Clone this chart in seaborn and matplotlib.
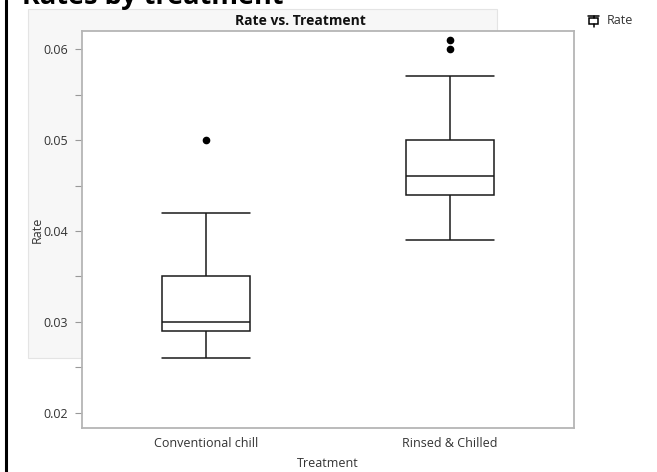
import numpy as np
import pandas as pd
import matplotlib
matplotlib.use("Agg")
import matplotlib.pyplot as plt
import seaborn as sns
from matplotlib.patches import Rectangle
from matplotlib.lines import Line2D
from matplotlib.ticker import MultipleLocator

# Data (quartiles, whiskers and outliers per group)
conventional = [0.026, 0.027, 0.028, 0.029, 0.029, 0.030, 0.030,
                0.031, 0.033, 0.035, 0.038, 0.042, 0.050]
rinsed = [0.039, 0.041, 0.043, 0.044, 0.045, 0.046, 0.046,
          0.047, 0.049, 0.050, 0.057, 0.060, 0.061]
treatments = ["Conventional chill", "Rinsed & Chilled"]

df = pd.DataFrame({
    "Treatment": [treatments[0]] * len(conventional) + [treatments[1]] * len(rinsed),
    "Rate": conventional + rinsed,
})

sns.set_style("white")
plt.rcParams["font.family"] = ["Open Sans", "DejaVu Sans"]

W, H = 657, 472
fig = plt.figure(figsize=(W / 100, H / 100), dpi=100)


def fx(px):
    return px / W


def fy(py):
    return 1 - py / H


# light gray panel behind the plot title
fig.patches.append(Rectangle((fx(28), fy(358)), fx(497 - 28), (358 - 9) / H,
                             transform=fig.transFigure, facecolor="#f7f7f7",
                             edgecolor="#e4e4e4", linewidth=0.8, zorder=-1))
# thick black bar at the left edge
fig.add_artist(Line2D([fx(6), fx(6)], [0, 1], transform=fig.transFigure,
                      color="black", linewidth=2.2))

ax = fig.add_axes([fx(82), fy(428), fx(492), 397 / H])
ax.set_zorder(1)
sns.boxplot(data=df, x="Treatment", y="Rate", ax=ax, width=0.36,
            color="white", linecolor="#1a1a1a", linewidth=1.1,
            fliersize=4.5, capwidths=0.36,
            flierprops=dict(marker="o", markerfacecolor="black",
                            markeredgecolor="black"))

ax.set_xlim(-0.51, 1.51)
ax.set_ylim(0.01835, 0.06198)
ax.yaxis.set_major_locator(MultipleLocator(0.01))
ax.yaxis.set_minor_locator(MultipleLocator(0.005))
ax.set_yticklabels([f"{t:.2f}" for t in ax.get_yticks()])
ax.tick_params(axis="y", which="both", direction="out", left=True, color="#999999",
               length=5, width=0.8, labelsize=9, labelcolor="#333333", pad=5)
ax.tick_params(axis="x", bottom=False, labelsize=9, labelcolor="#333333", pad=3)
for s in ax.spines.values():
    s.set_color("#b5b5b5")
    s.set_linewidth(1.3)

ax.set_xlabel("Treatment", fontsize=9, color="#333333", labelpad=5)
ax.set_ylabel("Rate", fontsize=9, color="#333333")
ax.yaxis.set_label_coords(-0.077, 0.5)

fig.text(fx(300), fy(21), "Rate vs. Treatment", ha="center", va="center",
         fontsize=10, fontweight="bold", color="#111111")
fig.text(fx(22), fy(4), "Rates by treatment", ha="left", va="baseline",
         fontsize=19.5, fontweight="bold", color="black")

# legend: small box-plot glyph and the series name
fig.add_artist(Line2D([fx(588), fx(599)], [fy(16), fy(16)], transform=fig.transFigure,
                      color="black", linewidth=1.1))
fig.add_artist(Rectangle((fx(589), fy(24)), fx(9), 6 / H, transform=fig.transFigure,
                         facecolor="white", edgecolor="black", linewidth=1.1))
fig.add_artist(Line2D([fx(593.5), fx(593.5)], [fy(16), fy(18)], transform=fig.transFigure,
                      color="black", linewidth=1.1))
fig.add_artist(Line2D([fx(593.5), fx(593.5)], [fy(24), fy(27)], transform=fig.transFigure,
                      color="black", linewidth=1.1))
fig.text(fx(607), fy(20), "Rate", ha="left", va="center", fontsize=9, color="#333333")

fig.savefig("out.png", dpi=100)
